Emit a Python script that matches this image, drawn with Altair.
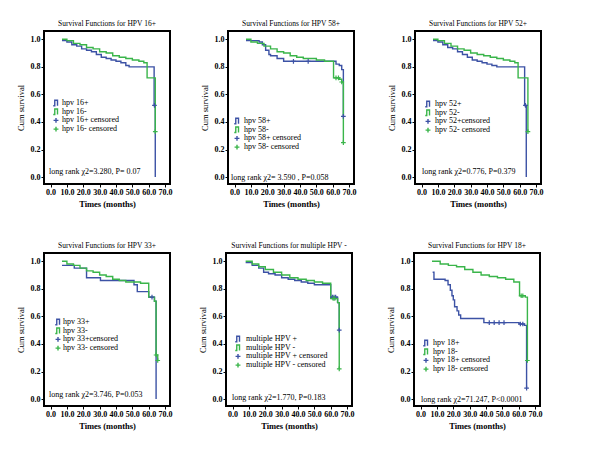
import altair as alt
import pandas as pd

BLUE = "#3c52a5"
GREEN = "#3ab54a"
SERIF = "Liberation Serif, Times New Roman, Times, serif"

TITLES = [
    "Survival Functions for HPV 16+",
    "Survival Functions for  HPV 58+",
    "Survival Functions for HPV 52+",
    "Survival Functions for HPV 33+",
    "Survival Functions for multiple HPV -",
    "Survival Functions for HPV 18+",
]
POS_LABELS = ["hpv 16+", "hpv  58+", "hpv  52+", "hpv  33+", "multiple HPV +", "hpv 18+"]
NEG_LABELS = ["hpv 16-", "hpv  58-", "hpv  52-", "hpv  33-", "multiple HPV -", "hpv 18-"]
POS_CENS_LABELS = ["hpv 16+ censored", "hpv  58+ censored", "hpv  52+censored",
                   "hpv  33+censored", "multiple HPV + censored", "hpv 18+ censored"]
NEG_CENS_LABELS = ["hpv 16-  censored", "hpv  58- censored", "hpv  52- censored",
                   "hpv  33- censored", "multiple HPV -  censored", "hpv 18-  censored"]
STATS = [
    "long rank \u03c72=3.280, P= 0.07",
    "long rank \u03c72= 3.590  , P=0.058",
    "long rank \u03c72=0.776, P=0.379",
    "long rank \u03c72=3.746, P=0.053",
    "long rank \u03c72=1.770, P=0.183",
    "long rank \u03c72=71.247, P<0.0001",
]

# ---- survival curves (time in months, cumulative survival) ----
P1_POS_T = [7, 10, 13, 16, 19, 22, 25, 28, 31, 34, 37, 40, 43, 46, 48, 63.3, 64]
P1_POS_S = [0.99, 0.98, 0.96, 0.95, 0.93, 0.92, 0.91, 0.89, 0.87, 0.86, 0.85, 0.84, 0.83, 0.81, 0.80, 0.52, 0.0]
P1_NEG_T = [7, 10, 14, 18, 22, 26, 30, 34, 38, 42, 46, 50, 54, 57, 59, 64]
P1_NEG_S = [1.0, 0.99, 0.97, 0.96, 0.94, 0.93, 0.91, 0.90, 0.88, 0.87, 0.86, 0.85, 0.84, 0.83, 0.72, 0.33]

P2_POS_T = [7, 15, 17, 19, 21, 22, 26, 30, 62, 64, 65.5, 66.5]
P2_POS_S = [0.99, 0.98, 0.96, 0.92, 0.89, 0.88, 0.86, 0.84, 0.82, 0.81, 0.78, 0.44]
P2_NEG_T = [7, 10, 14, 18, 22, 26, 30, 34, 38, 42, 46, 50, 55, 60.5, 64, 65.5, 66.5]
P2_NEG_S = [1.0, 0.98, 0.97, 0.95, 0.93, 0.91, 0.90, 0.88, 0.87, 0.86, 0.86, 0.85, 0.84, 0.72, 0.71, 0.69, 0.25]

P3_POS_T = [7, 10, 13, 16, 19, 22, 25, 28, 31, 34, 37, 40, 43, 46, 63, 64]
P3_POS_S = [0.99, 0.98, 0.96, 0.94, 0.93, 0.91, 0.89, 0.87, 0.85, 0.84, 0.83, 0.82, 0.81, 0.80, 0.52, 0.0]
P3_NEG_T = [7, 10, 14, 18, 22, 26, 30, 34, 38, 42, 46, 50, 54, 57, 59, 65]
P3_NEG_S = [1.0, 0.99, 0.97, 0.95, 0.93, 0.92, 0.90, 0.89, 0.88, 0.87, 0.86, 0.85, 0.84, 0.83, 0.72, 0.33]

P4_POS_T = [7, 14.5, 22, 30.5, 51, 53, 60, 63.5, 64.5]
P4_POS_S = [0.97, 0.95, 0.88, 0.86, 0.83, 0.78, 0.74, 0.71, 0.0]
P4_NEG_T = [7, 10, 14, 18, 22, 26, 30, 34, 38, 42, 46, 50, 55, 60, 63.5, 64.5, 65.5]
P4_NEG_S = [1.0, 0.98, 0.97, 0.95, 0.93, 0.92, 0.90, 0.89, 0.87, 0.86, 0.85, 0.85, 0.84, 0.74, 0.71, 0.32, 0.28]

P5_POS_T = [8, 12, 16, 19, 22, 26, 30, 34, 38, 42, 46, 50, 60, 64.2, 65.2]
P5_POS_S = [0.99, 0.97, 0.95, 0.92, 0.91, 0.90, 0.88, 0.87, 0.86, 0.85, 0.84, 0.83, 0.74, 0.70, 0.50]
P5_NEG_T = [8, 12, 16, 20, 25, 30, 35, 40, 45, 50, 55, 60, 64.2, 65.2]
P5_NEG_S = [1.0, 0.98, 0.96, 0.94, 0.92, 0.90, 0.88, 0.87, 0.86, 0.85, 0.84, 0.73, 0.70, 0.22]

P6_POS_T = [7.4, 8.2, 15, 16.8, 18.2, 19.2, 20, 20.8, 22.3, 23.3, 24.5, 38.7, 60.2, 63.5, 64.8]
P6_POS_S = [0.92, 0.87, 0.86, 0.83, 0.79, 0.75, 0.72, 0.67, 0.64, 0.61, 0.585, 0.555, 0.545, 0.535, 0.08]
P6_NEG_T = [7, 12, 17, 22, 27, 32, 37, 42, 47, 52, 57, 60.5, 64, 65.3]
P6_NEG_S = [1.0, 0.98, 0.97, 0.96, 0.94, 0.92, 0.90, 0.89, 0.88, 0.87, 0.85, 0.75, 0.74, 0.28]

# censored observations
P1_PC_T, P1_PC_S = [63.5], [0.52]
P1_NC_T, P1_NC_S = [64], [0.33]
P2_PC_T, P2_PC_S = [36, 45, 66.5], [0.84, 0.84, 0.44]
P2_NC_T, P2_NC_S = [62, 63.5, 65.5, 66.5], [0.72, 0.72, 0.69, 0.25]
P3_PC_T, P3_PC_S = [63.5], [0.52]
P3_NC_T, P3_NC_S = [65], [0.33]
P4_PC_T, P4_PC_S = [62], [0.74]
P4_NC_T, P4_NC_S = [64.5, 65.5], [0.32, 0.28]
P5_PC_T, P5_PC_S = [61, 62, 63, 65.2], [0.74, 0.74, 0.74, 0.50]
P5_NC_T, P5_NC_S = [61.5, 62.5, 65.2], [0.73, 0.73, 0.22]
P6_PC_T, P6_PC_S = [42, 45, 48, 51, 61, 62.5, 64.8], [0.555, 0.555, 0.555, 0.555, 0.545, 0.545, 0.08]
P6_NC_T, P6_NC_S = [61.5, 62.5, 65.3], [0.75, 0.75, 0.28]

POS_T = [P1_POS_T, P2_POS_T, P3_POS_T, P4_POS_T, P5_POS_T, P6_POS_T]
POS_S = [P1_POS_S, P2_POS_S, P3_POS_S, P4_POS_S, P5_POS_S, P6_POS_S]
NEG_T = [P1_NEG_T, P2_NEG_T, P3_NEG_T, P4_NEG_T, P5_NEG_T, P6_NEG_T]
NEG_S = [P1_NEG_S, P2_NEG_S, P3_NEG_S, P4_NEG_S, P5_NEG_S, P6_NEG_S]
PC_T = [P1_PC_T, P2_PC_T, P3_PC_T, P4_PC_T, P5_PC_T, P6_PC_T]
PC_S = [P1_PC_S, P2_PC_S, P3_PC_S, P4_PC_S, P5_PC_S, P6_PC_S]
NC_T = [P1_NC_T, P2_NC_T, P3_NC_T, P4_NC_T, P5_NC_T, P6_NC_T]
NC_S = [P1_NC_S, P2_NC_S, P3_NC_S, P4_NC_S, P5_NC_S, P6_NC_S]

X_TICKS = [0, 10, 20, 30, 40, 50, 60, 70]
Y_TICKS = [0.0, 0.2, 0.4, 0.6, 0.8, 1.0]

# layout (pixels inside each plot frame): legend icon x, text x, first row y, stat y
LEG_LAYOUT = [
    (12, 18, 72, 141),
    (9, 16, 90, 147),
    (13, 20, 73, 141),
    (14, 19, 69, 142),
    (12, 20, 86, 145),
    (12, 19, 90, 147),
]
ROW_GAP = 8.7
STAT_X = [5, 3, 7, 5, 6, 7]

W, H = 126, 153
STEP_SHAPE = "M-1,1L-0.45,1L-0.45,-1L0.55,-1L0.55,1"
PLUS_SHAPE = "M0,-1L0,1M-1,0L1,0"


def one(label):
    return pd.DataFrame({"label": [label]})


XS = alt.Scale(domain=[-4, 73], nice=False, zero=False)
YS = alt.Scale(domain=[-0.05, 1.06], nice=False, zero=False)
XAX = alt.Axis(values=X_TICKS, format=".1f", title="Times (months)", grid=False, domain=False,
               labelFont=SERIF, labelFontWeight="bold", labelFontSize=8, labelColor="black",
               labelOverlap=False, labelFlush=False, labelPadding=1, tickColor="black", tickSize=3,
               titleFont=SERIF, titleFontWeight="bold", titleFontSize=8.5, titleColor="black",
               titlePadding=3)
YAX = alt.Axis(values=Y_TICKS, format=".1f", title="Cum survival", grid=False, domain=False,
               labelFont=SERIF, labelFontWeight="bold", labelFontSize=8, labelColor="black",
               labelOverlap=False, labelPadding=1, tickColor="black", tickSize=3,
               titleFont=SERIF, titleFontWeight="normal", titleFontSize=8.5, titleColor="black",
               titlePadding=5)


def panel(k):
    def line(t, s, col):
        df = pd.DataFrame({"t": t, "s": s})
        return alt.Chart(df).mark_line(interpolate="step-after", color=col, strokeWidth=1.4).encode(
            x=alt.X("t:Q", scale=XS, axis=XAX), y=alt.Y("s:Q", scale=YS, axis=YAX))

    def cens(t, s, col):
        df = pd.DataFrame({"t": t, "s": s})
        return alt.Chart(df).mark_point(shape=PLUS_SHAPE, filled=False, size=22, strokeWidth=1.2,
                                        color=col, opacity=1).encode(
            x=alt.X("t:Q", scale=XS, axis=XAX), y=alt.Y("s:Q", scale=YS, axis=YAX))

    ix, tx, y0, sy = LEG_LAYOUT[k]
    layers = [line(POS_T[k], POS_S[k], BLUE), line(NEG_T[k], NEG_S[k], GREEN),
              cens(PC_T[k], PC_S[k], BLUE), cens(NC_T[k], NC_S[k], GREEN)]
    labels = [POS_LABELS[k], NEG_LABELS[k], POS_CENS_LABELS[k], NEG_CENS_LABELS[k]]
    shapes = [STEP_SHAPE, STEP_SHAPE, PLUS_SHAPE, PLUS_SHAPE]
    cols = [BLUE, GREEN, BLUE, GREEN]
    for r in range(4):
        yy = y0 + r * ROW_GAP
        layers.append(alt.Chart(one(labels[r])).mark_point(
            shape=shapes[r], filled=False, size=30 if r < 2 else 24, strokeWidth=1.4,
            color=cols[r], opacity=1).encode(x=alt.value(ix), y=alt.value(yy)))
        layers.append(alt.Chart(one(labels[r])).mark_text(
            align="left", baseline="middle", font=SERIF, fontSize=8, color="black").encode(
            x=alt.value(tx), y=alt.value(yy), text="label:N"))
    layers.append(alt.Chart(one(STATS[k])).mark_text(
        align="left", baseline="middle", font=SERIF, fontSize=8, color="black").encode(
        x=alt.value(STAT_X[k]), y=alt.value(sy), text="label:N"))
    return alt.layer(*layers).properties(
        width=W, height=H,
        title=alt.TitleParams(TITLES[k], font=SERIF, fontSize=7.5, fontWeight="normal",
                              color="black", offset=4, anchor="middle"))


P = [panel(k) for k in range(6)]
row1 = alt.hconcat(P[0], alt.hconcat(P[1], P[2], spacing=28), spacing=25)
row2 = alt.hconcat(P[3], alt.hconcat(P[4], P[5], spacing=29), spacing=23)
chart = alt.vconcat(row1, row2, spacing=31).properties(
    padding={"left": 7, "top": 10, "right": 2, "bottom": 2}
).configure_view(stroke="black", strokeWidth=2)

chart.save("out.html", embed_options={"renderer": "svg", "actions": False})
